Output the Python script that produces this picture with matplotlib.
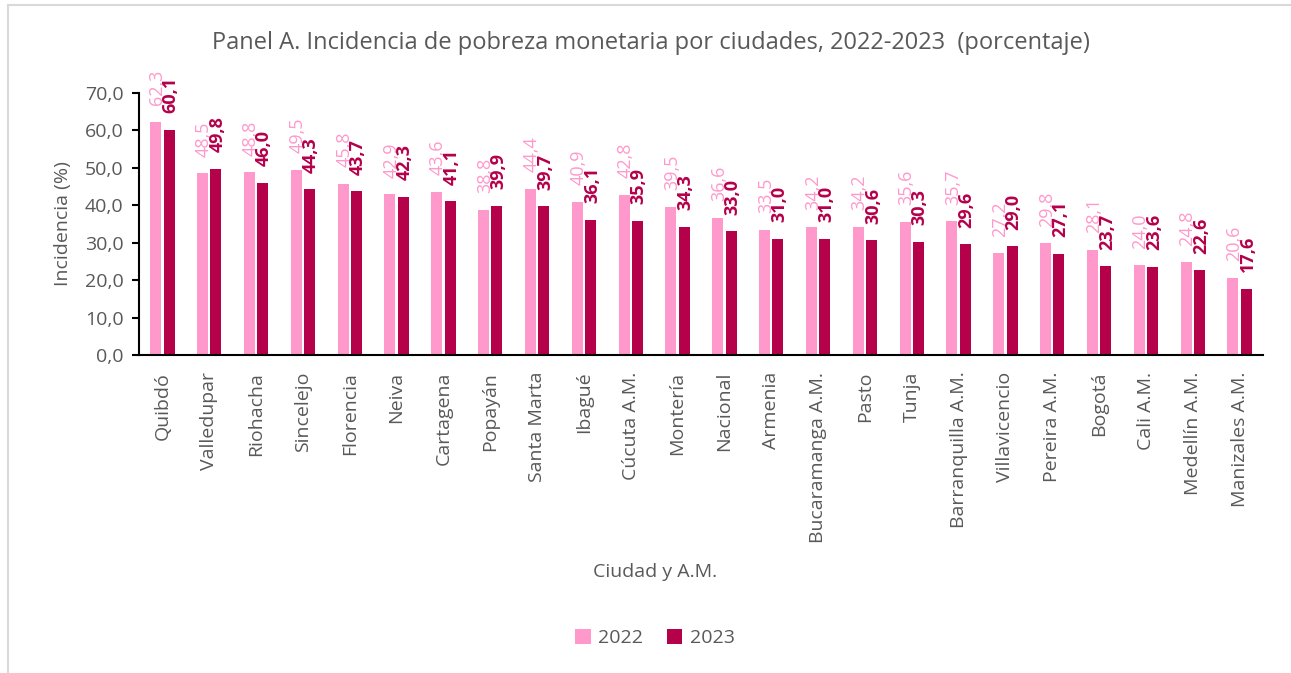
import matplotlib
matplotlib.use("Agg")
import matplotlib.pyplot as plt
import numpy as np

# Data
ciudades = ["Quibdó", "Valledupar", "Riohacha", "Sincelejo", "Florencia", "Neiva",
            "Cartagena", "Popayán", "Santa Marta", "Ibagué", "Cúcuta A.M.", "Montería",
            "Nacional", "Armenia", "Bucaramanga A.M.", "Pasto", "Tunja",
            "Barranquilla A.M.", "Villavicencio", "Pereira A.M.", "Bogotá", "Cali A.M.",
            "Medellín A.M.", "Manizales A.M."]
v2022 = [62.3, 48.5, 48.8, 49.5, 45.8, 42.9, 43.6, 38.8, 44.4, 40.9, 42.8, 39.5,
         36.6, 33.5, 34.2, 34.2, 35.6, 35.7, 27.2, 29.8, 28.1, 24.0, 24.8, 20.6]
v2023 = [60.1, 49.8, 46.0, 44.3, 43.7, 42.3, 41.1, 39.9, 39.7, 36.1, 35.9, 34.3,
         33.0, 31.0, 31.0, 30.6, 30.3, 29.6, 29.0, 27.1, 23.7, 23.6, 22.6, 17.6]
yticks = [0, 10, 20, 30, 40, 50, 60, 70]

c2022 = "#FF99CC"
c2023 = "#B5004A"
gray = "#595959"

plt.rcParams["font.family"] = ["Open Sans", "DejaVu Sans"]

W, H = 1291, 673
fig = plt.figure(figsize=(W / 100, H / 100), dpi=100)
ax = fig.add_axes([139 / W, (H - 355) / H, 1124 / W, (355 - 93) / H])

x = np.arange(len(ciudades))
bw = 0.235
off = 0.143
b1 = ax.bar(x - off, v2022, bw, color=c2022, label="2022")
b2 = ax.bar(x + off, v2023, bw, color=c2023, label="2023")

def fmt(v):
    return f"{v:.1f}".replace(".", ",")

for xi, v in zip(x - off, v2022):
    ax.annotate(fmt(v), (xi, v), xytext=(1, 12), textcoords="offset points",
                rotation=90, ha="center", va="bottom", fontsize=13, color=c2022,
                annotation_clip=False)
for xi, v in zip(x + off, v2023):
    ax.annotate(fmt(v), (xi, v), xytext=(1, 12), textcoords="offset points",
                rotation=90, ha="center", va="bottom", fontsize=13, color=c2023,
                fontweight="bold", annotation_clip=False)

ax.set_xlim(-0.5, len(ciudades) - 0.5)
ax.set_ylim(0, 70)
ax.set_yticks(yticks)
ax.set_yticklabels([fmt(t) for t in yticks], fontsize=14, color=gray)
ax.set_xticks(x)
ax.set_xticklabels(ciudades, rotation=90, fontsize=14, color=gray)
ax.tick_params(axis="x", length=0, pad=12)
ax.tick_params(axis="y", length=5, width=1.5, color="black", pad=6)
for s in ["top", "right"]:
    ax.spines[s].set_visible(False)
ax.spines["left"].set_linewidth(1.5)
ax.spines["bottom"].set_linewidth(1.5)

ax.set_ylabel("Incidencia (%)", fontsize=14, color=gray, labelpad=9)
fig.text(655 / W, 1 - 572 / H, "Ciudad y A.M.", ha="center", va="center",
         fontsize=14, color=gray)
fig.text(651 / W, 1 - 43 / H,
         "Panel A. Incidencia de pobreza monetaria por ciudades, 2022-2023  (porcentaje)",
         ha="center", va="center", fontsize=17, color=gray)

fig.legend(handles=[b1, b2], loc="center", bbox_to_anchor=(655 / W, 1 - 638 / H),
           ncol=2, frameon=False, fontsize=14, labelcolor=gray,
           handlelength=0.8, handleheight=0.8, handletextpad=0.4, columnspacing=1.2)

# light gray frame (top and left edges visible in the reference)
fig.add_artist(plt.Line2D([8 / W, 1], [1 - 5 / H, 1 - 5 / H], color="#D9D9D9", lw=1.5))
fig.add_artist(plt.Line2D([8 / W, 8 / W], [0, 1 - 5 / H], color="#D9D9D9", lw=1.5))

fig.savefig("out.png", dpi=100)
